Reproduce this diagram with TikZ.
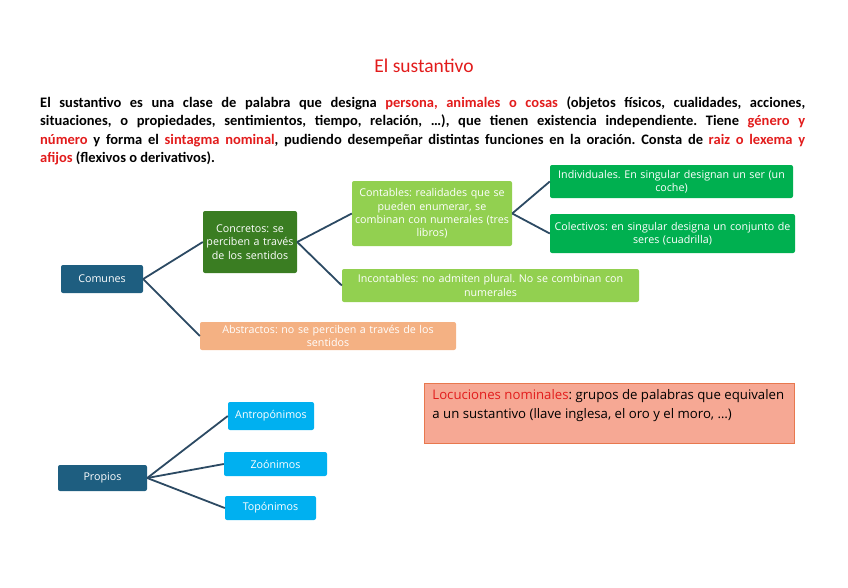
\documentclass[tikz,border=0pt]{standalone}
\usepackage{fontspec}
\setmainfont{Carlito}
\newfontfamily\cajafont{Open Sans}
\usepackage{tikz}
\usetikzlibrary{arrows.meta}
\definecolor{rojo}{RGB}{226,28,28}
\definecolor{azuloscuro}{RGB}{30,94,128}
\definecolor{verdeoscuro}{RGB}{58,125,34}
\definecolor{verdeclaro}{RGB}{146,208,80}
\definecolor{verde}{RGB}{0,176,80}
\definecolor{salmon}{RGB}{244,177,131}
\definecolor{celeste}{RGB}{0,176,240}
\definecolor{rosado}{RGB}{246,168,148}
\definecolor{borde}{RGB}{232,120,78}
\definecolor{linea}{RGB}{44,74,99}

\begin{document}
\frenchspacing
\begin{tikzpicture}[x=1pt,y=-1pt,
  caja/.style={rounded corners=2pt,inner sep=2pt,align=center,text=white,
    font=\cajafont\fontsize{10.7}{13.4}\selectfont},
  conector/.style={draw=linea,line width=1.8pt}]
\useasboundingbox (0,0) rectangle (848,587);

% título y definición
\node (titulo) at (424,66) {\fontsize{19.5}{22}\selectfont\color{rojo}El sustantivo};
\node[anchor=north west,inner sep=0pt,text width=765pt,align=justify,
  font=\bfseries\fontsize{14.5}{18.5}\selectfont] (definicion) at (40,96.5)
  {El sustantivo es una clase de palabra que designa \textcolor{rojo}{persona, animales o cosas} (objetos físicos, cualidades, acciones,\linebreak
  situaciones, o propiedades, sentimientos, tiempo, relación, \dots), que tienen existencia independiente. Tiene \textcolor{rojo}{género y}\linebreak
  \textcolor{rojo}{número} y forma el \textcolor{rojo}{sintagma nominal}, pudiendo desempeñar distintas funciones en la oración. Consta de \textcolor{rojo}{raiz o lexema y}\linebreak
  \textcolor{rojo}{afijos} (flexivos o derivativos).};

% 1. comunes
\node[caja,fill=azuloscuro,text width=78pt,minimum height=28pt] (comunes) at (102,279) {Comunes};
\node[caja,fill=verdeoscuro,text width=90pt,minimum height=62pt] (concretos) at (250,242)
  {Concretos: se\\perciben a través\\de los sentidos};
\node[caja,fill=verdeclaro,text width=156pt,minimum height=65pt] (contables) at (432,213.5)
  {Contables: realidades que se\\pueden enumerar, se\\combinan con numerales (tres\\libros)};
\node[caja,fill=verde,text width=239pt,minimum height=33pt] (individuales) at (671.5,181.5)
  {Individuales. En singular designan un ser (un\\coche)};
\node[caja,fill=verde,text width=241pt,minimum height=39pt] (colectivos) at (672.5,233.5)
  {Colectivos: en singular designa un conjunto de\\seres (cuadrilla)};
\node[caja,fill=verdeclaro,text width=293pt,minimum height=33pt] (incontables) at (490.5,285.5)
  {Incontables: no admiten plural. No se combinan con\\numerales};
\node[caja,fill=salmon,text width=252pt,minimum height=28pt] (abstractos) at (328,336)
  {Abstractos: no se perciben a través de los\\sentidos};

\draw[conector] (comunes.east) -- (concretos.west);
\draw[conector] (comunes.east) -- (abstractos.west);
\draw[conector] (concretos.east) -- (contables.west);
\draw[conector] (concretos.east) -- (incontables.west);
\draw[conector] (contables.east) -- (individuales.west);
\draw[conector] (contables.east) -- (colectivos.west);

% 2. propios
\node[caja,fill=azuloscuro,text width=85pt,minimum height=26pt] (propios) at (102.5,478) {Propios};
\node[caja,fill=celeste,text width=82pt,minimum height=28pt] (antroponimos) at (271,416) {Antropónimos};
\node[caja,fill=celeste,text width=99pt,minimum height=24pt] (zoonimos) at (275.5,464) {Zoónimos};
\node[caja,fill=celeste,text width=87pt,minimum height=24pt] (toponimos) at (270.5,508) {Topónimos};

\draw[conector] (propios.east) -- (antroponimos.west);
\draw[conector] (propios.east) -- (zoonimos.west);
\draw[conector] (propios.east) -- (toponimos.west);

% 3. locuciones
\node[anchor=north west,fill=rosado,draw=borde,line width=0.8pt,inner sep=0pt,
  font=\cajafont\fontsize{13.2}{19}\selectfont] (locuciones) at (424,383)
  {\parbox[t][60pt][t]{370pt}{\vspace{6pt}\leftskip=8pt\rightskip=2pt plus 1fil
  \textcolor{rojo}{Locuciones nominales}: grupos de palabras que equivalen\\
  a un sustantivo (llave inglesa, el oro y el moro, \dots)}};
\end{tikzpicture}
\end{document}
